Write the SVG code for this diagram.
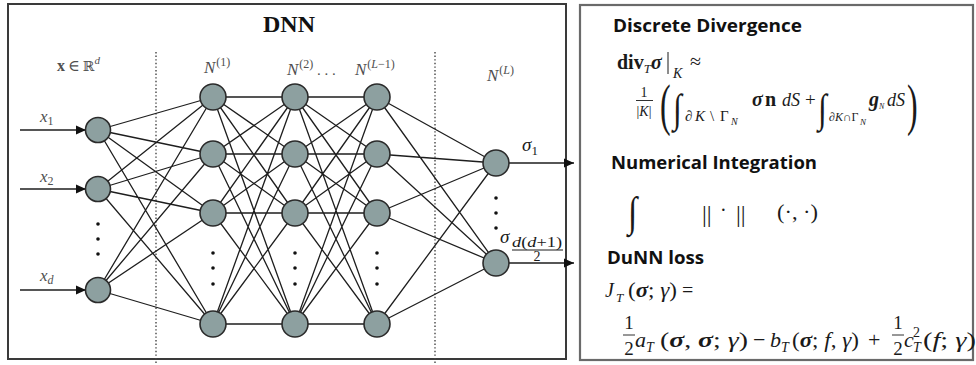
<svg xmlns="http://www.w3.org/2000/svg" width="976" height="365" viewBox="0 0 976 365">
<style>
.box{fill:#fff;stroke:#3a3a3a;stroke-width:2}
.rbox{fill:#fff;stroke:#6a6a6a;stroke-width:2.2}
.node{fill:#8da0a0;stroke:#2b2b2b;stroke-width:1.6}
.edge{stroke:#1e1e1e;stroke-width:1.3;fill:none}
.arr{stroke:#1e1e1e;stroke-width:1.5;fill:none}
.dot{fill:#111}
.sep{stroke:#444;stroke-width:1.4;stroke-dasharray:1.4 2.2}
.m{font-family:"Liberation Serif","DejaVu Serif",serif;fill:#1a1a1a}
.lab{font-family:"Liberation Serif","DejaVu Serif",serif;fill:#4f4f4f}
.h{font-family:"Open Sans","Liberation Sans",sans-serif;font-weight:bold;fill:#111}
.i{font-style:italic}
.b{font-weight:bold}
.bar{stroke:#1a1a1a;stroke-width:0.9}
</style>
<defs>
<marker id="ah" viewBox="0 0 10 10" refX="10" refY="5" markerWidth="10" markerHeight="10" markerUnits="userSpaceOnUse" orient="auto">
<path d="M0,0.5 L10,5 L0,9.5 Z" fill="#111"/>
</marker>
</defs>

<rect class="box" x="8" y="4" width="558" height="355"/>
<rect class="rbox" x="580" y="5" width="393" height="355"/>

<g id="separators">
<line class="sep" x1="156" y1="52" x2="156" y2="365"/>
<line class="sep" x1="435" y1="52" x2="435" y2="365"/>
</g>

<g id="connectors">
<path class="edge" d="M98,130 L213,97 M98,130 L213,154 M98,130 L213,213 M98,130 L213,324
M98,189 L213,97 M98,189 L213,154 M98,189 L213,213 M98,189 L213,324
M98,290 L213,97 M98,290 L213,154 M98,290 L213,213 M98,290 L213,324"/>
<path class="edge" d="M213,97 L295,97 M213,97 L295,154 M213,97 L295,213 M213,97 L295,324
M213,154 L295,97 M213,154 L295,154 M213,154 L295,213 M213,154 L295,324
M213,213 L295,97 M213,213 L295,154 M213,213 L295,213 M213,213 L295,324
M213,324 L295,97 M213,324 L295,154 M213,324 L295,213 M213,324 L295,324"/>
<path class="edge" d="M295,97 L377,97 M295,97 L377,154 M295,97 L377,213 M295,97 L377,324
M295,154 L377,97 M295,154 L377,154 M295,154 L377,213 M295,154 L377,324
M295,213 L377,97 M295,213 L377,154 M295,213 L377,213 M295,213 L377,324
M295,324 L377,97 M295,324 L377,154 M295,324 L377,213 M295,324 L377,324"/>
<path class="edge" d="M377,97 L496,163 M377,154 L496,163 M377,213 L496,163 M377,324 L496,163
M377,97 L496,263 M377,154 L496,263 M377,213 L496,263 M377,324 L496,263"/>
<line class="arr" x1="20" y1="130" x2="86" y2="130" marker-end="url(#ah)"/>
<line class="arr" x1="20" y1="189" x2="86" y2="189" marker-end="url(#ah)"/>
<line class="arr" x1="20" y1="290" x2="86" y2="290" marker-end="url(#ah)"/>
<line class="arr" x1="508" y1="163" x2="574" y2="163" marker-end="url(#ah)"/>
<line class="arr" x1="508" y1="263" x2="574" y2="263" marker-end="url(#ah)"/>
</g>

<g id="input-layer">
<circle id="in1" class="node" cx="98" cy="130" r="12.5"/>
<circle id="in2" class="node" cx="98" cy="189" r="12.5"/>
<circle id="ind" class="node" cx="98" cy="290" r="12.5"/>
<circle class="dot" cx="98" cy="224" r="1.8"/>
<circle class="dot" cx="98" cy="239" r="1.8"/>
<circle class="dot" cx="98" cy="254" r="1.8"/>
</g>
<g id="layer-1">
<circle class="node" cx="213" cy="97" r="13"/>
<circle class="node" cx="213" cy="154" r="13"/>
<circle class="node" cx="213" cy="213" r="13"/>
<circle class="node" cx="213" cy="324" r="13"/>
<circle class="dot" cx="213" cy="253" r="1.8"/>
<circle class="dot" cx="213" cy="268" r="1.8"/>
<circle class="dot" cx="213" cy="284" r="1.8"/>
</g>
<g id="layer-2">
<circle class="node" cx="295" cy="97" r="13"/>
<circle class="node" cx="295" cy="154" r="13"/>
<circle class="node" cx="295" cy="213" r="13"/>
<circle class="node" cx="295" cy="324" r="13"/>
<circle class="dot" cx="295" cy="253" r="1.8"/>
<circle class="dot" cx="295" cy="268" r="1.8"/>
<circle class="dot" cx="295" cy="284" r="1.8"/>
</g>
<g id="layer-L-1">
<circle class="node" cx="377" cy="97" r="13"/>
<circle class="node" cx="377" cy="154" r="13"/>
<circle class="node" cx="377" cy="213" r="13"/>
<circle class="node" cx="377" cy="324" r="13"/>
<circle class="dot" cx="377" cy="253" r="1.8"/>
<circle class="dot" cx="377" cy="268" r="1.8"/>
<circle class="dot" cx="377" cy="284" r="1.8"/>
</g>
<g id="output-layer">
<circle class="node" cx="496" cy="163" r="13"/>
<circle class="node" cx="496" cy="263" r="13"/>
<circle class="dot" cx="496" cy="198" r="1.8"/>
<circle class="dot" cx="496" cy="213" r="1.8"/>
<circle class="dot" cx="496" cy="228" r="1.8"/>
</g>

<g id="left-labels">
<text x="289" y="32" text-anchor="middle" font-family="'Liberation Serif',serif" font-weight="bold" font-size="24" fill="#111">DNN</text>
<text class="lab" x="57" y="71" font-size="16"><tspan class="b">x</tspan><tspan dx="3">∈</tspan><tspan dx="3" font-family="'DejaVu Serif',serif" font-size="14">ℝ</tspan><tspan class="i" font-size="11" dy="-7">d</tspan></text>
<text class="lab" x="204" y="73" font-size="17"><tspan class="i">N</tspan><tspan font-size="12" dx="1" dy="-7">(1)</tspan></text>
<text class="lab" x="287" y="75" font-size="17"><tspan class="i">N</tspan><tspan font-size="12" dx="1" dy="-7">(2)</tspan><tspan dy="7" font-size="15"> . . .</tspan></text>
<text class="lab" x="355" y="75" font-size="17"><tspan class="i">N</tspan><tspan font-size="12" dx="1" dy="-7">(<tspan class="i">L</tspan>−1)</tspan></text>
<text class="lab" x="487" y="81" font-size="17"><tspan class="i">N</tspan><tspan font-size="12" dx="1" dy="-7">(<tspan class="i">L</tspan>)</tspan></text>
<text class="lab" x="40" y="122" font-size="17"><tspan class="i">x</tspan><tspan font-size="12" dy="3">1</tspan></text>
<text class="lab" x="40" y="182" font-size="17"><tspan class="i">x</tspan><tspan font-size="12" dy="3">2</tspan></text>
<text class="lab" x="40" y="281" font-size="17"><tspan class="i">x</tspan><tspan class="i" font-size="12" dy="3">d</tspan></text>
<text class="m" x="522" y="151" font-size="19"><tspan class="i">σ</tspan><tspan font-size="13" dy="4">1</tspan></text>
<text class="m i" x="500" y="243" font-size="19">σ</text>
<text class="m" x="512" y="247" font-size="15" textLength="50" lengthAdjust="spacingAndGlyphs"><tspan class="i">d</tspan>(<tspan class="i">d</tspan>+1)</text>
<line x1="512" y1="250" x2="563" y2="250" stroke="#1a1a1a" stroke-width="1"/>
<text class="m" x="537" y="261" font-size="14" text-anchor="middle">2</text>
</g>

<g id="right-panel">
<text class="h" x="613" y="32" font-size="18" textLength="189" lengthAdjust="spacingAndGlyphs">Discrete Divergence</text>
<text class="m" x="617" y="69" font-size="20"><tspan class="b">div</tspan><tspan class="i" font-size="13" dy="4">T</tspan><tspan class="b i" dy="-4">σ</tspan></text>
<line x1="668" y1="52" x2="668" y2="74" stroke="#1a1a1a" stroke-width="1"/>
<text class="m i" x="673" y="78" font-size="14">K</text>
<text class="m" x="690" y="68" font-size="20">≈</text>

<text class="m" x="644" y="97" font-size="14" text-anchor="middle">1</text>
<line class="bar" x1="636" y1="100.5" x2="653" y2="100.5"/>
<text class="m" x="644" y="116" font-size="14" text-anchor="middle">|<tspan class="i">K</tspan>|</text>
<text class="m" transform="translate(660,124) scale(0.55,1)" font-size="58">(</text>
<text class="m" transform="translate(673,122) scale(0.8,1)" font-size="40">∫</text>
<text class="m" x="685" y="121" font-size="15">∂</text>
<text class="m i" x="695" y="121" font-size="15">K</text>
<text class="m" x="710" y="121" font-size="15">\</text>
<text class="m" x="720" y="121" font-size="15">Γ</text>
<text class="m i" x="731" y="125" font-size="10">N</text>
<text class="m b i" x="752" y="106" font-size="20">σ</text>
<text class="m b" x="765" y="106" font-size="20">n</text>
<text class="m i" x="782" y="106" font-size="18">dS</text>
<text class="m" x="805" y="106" font-size="19">+</text>
<text class="m" transform="translate(818,122) scale(0.8,1)" font-size="40">∫</text>
<text class="m" x="829" y="121" font-size="12">∂<tspan class="i">K</tspan>∩Γ</text>
<text class="m i" x="860" y="125" font-size="9">N</text>
<text class="m b i" x="869" y="106" font-size="20">g</text>
<text class="m i" x="879" y="109" font-size="8">N</text>
<text class="m i" x="887" y="106" font-size="18">dS</text>
<text class="m" transform="translate(907,124) scale(0.55,1)" font-size="58">)</text>

<text class="h" x="611" y="169" font-size="18" textLength="206" lengthAdjust="spacingAndGlyphs">Numerical Integration</text>
<text class="m" transform="translate(628,226) scale(0.8,1)" font-size="42">∫</text>
<text class="m" x="702" y="222" font-size="24">||</text>
<text class="m" x="720" y="217" font-size="20">·</text>
<text class="m" x="736" y="222" font-size="24">||</text>
<text class="m" x="777" y="219" font-size="21" textLength="41" lengthAdjust="spacingAndGlyphs">(·, ·)</text>

<text class="h" x="607" y="264" font-size="18" textLength="97" lengthAdjust="spacingAndGlyphs">DuNN loss</text>
<text class="m i" x="605" y="297" font-size="20">J</text>
<text class="m i" x="616" y="302" font-size="13">T</text>
<text class="m" x="628" y="297" font-size="20" textLength="49" lengthAdjust="spacingAndGlyphs">(<tspan class="b i">σ</tspan>; <tspan class="i">γ</tspan>)</text>
<text class="m" x="682" y="297" font-size="20">=</text>

<text class="m" x="629" y="329" font-size="19" text-anchor="middle">1</text>
<line class="bar" x1="623" y1="335" x2="635" y2="335"/>
<text class="m" x="629" y="355" font-size="19" text-anchor="middle">2</text>
<text class="m i" x="635" y="347" font-size="22">a</text>
<text class="m i" x="646" y="352" font-size="14">T</text>
<text class="m" x="660" y="347" font-size="22" textLength="88" lengthAdjust="spacingAndGlyphs">(<tspan class="b i">σ</tspan>, <tspan class="b i">σ</tspan>; <tspan class="i">γ</tspan>)</text>
<text class="m" x="753" y="347" font-size="22">−</text>
<text class="m i" x="770" y="347" font-size="22">b</text>
<text class="m i" x="781" y="352" font-size="14">T</text>
<text class="m" x="792" y="347" font-size="22" textLength="67" lengthAdjust="spacingAndGlyphs">(<tspan class="b i">σ</tspan>; <tspan class="i">f</tspan>, <tspan class="i">γ</tspan>)</text>
<text class="m" x="868" y="347" font-size="22">+</text>
<text class="m" x="898" y="329" font-size="19" text-anchor="middle">1</text>
<line class="bar" x1="892" y1="335" x2="904" y2="335"/>
<text class="m" x="898" y="355" font-size="19" text-anchor="middle">2</text>
<text class="m i" x="904" y="347" font-size="22">c</text>
<text class="m" x="913" y="337" font-size="14">2</text>
<text class="m i" x="913" y="352" font-size="14">T</text>
<text class="m" x="923" y="347" font-size="22" textLength="53" lengthAdjust="spacingAndGlyphs">(<tspan class="i">f</tspan>; <tspan class="i">γ</tspan>)</text>
</g>
</svg>
